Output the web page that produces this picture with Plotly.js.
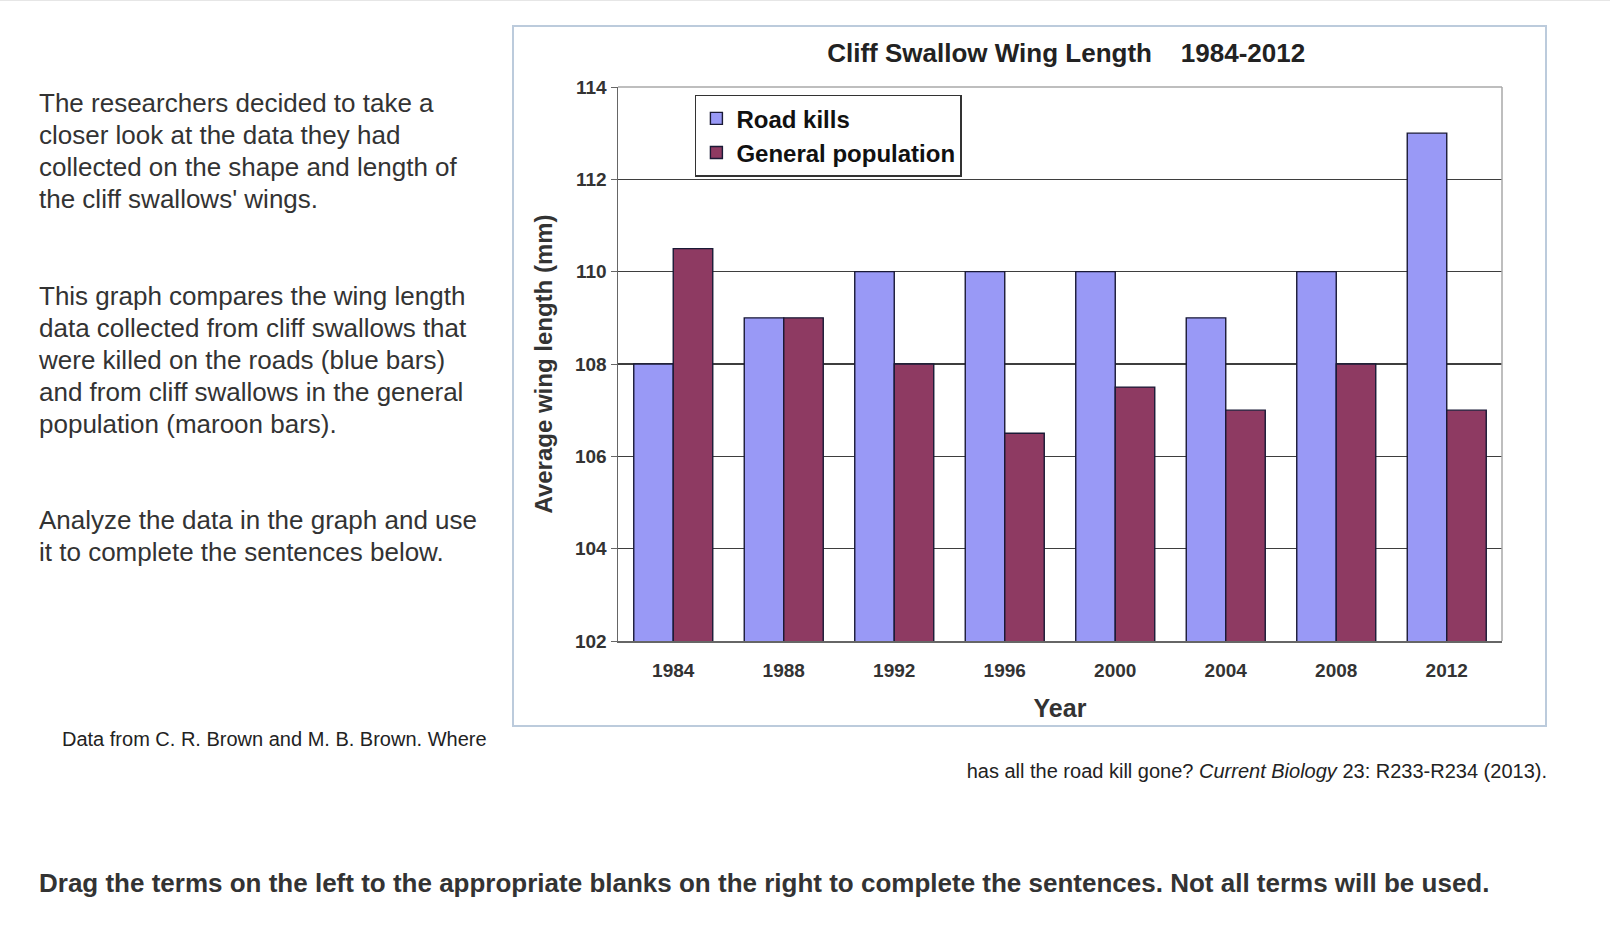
<!DOCTYPE html>
<html>
<head>
<meta charset="utf-8">
<script src="https://cdn.plot.ly/plotly-3.0.1.min.js"></script>
<style>
  html, body { margin: 0; padding: 0; background: #ffffff; }
  body { width: 1610px; height: 930px; position: relative; overflow: hidden;
         font-family: "Liberation Sans", Arial, Helvetica, sans-serif; color: #333; }
  .topline { position: absolute; left: 0; top: 0; width: 1610px; height: 1px; background: #e6e6e6; }
  .para { position: absolute; left: 39px; font-size: 26px; line-height: 32px; white-space: nowrap; }
  .cite { position: absolute; font-size: 20px; line-height: 24px; white-space: nowrap; color: #222; }
  .task { position: absolute; left: 39px; top: 867px; font-size: 26px; line-height: 32px;
          font-weight: bold; white-space: nowrap; color: #333; }
  #chartBox { position: absolute; left: 512px; top: 25px; width: 1031px; height: 698px;
              border: 2px solid #bccbdc; }
  #chart { width: 1031px; height: 698px; }
</style>
</head>
<body>
<div class="topline"></div>

<div class="para" style="top:87px">The researchers decided to take a<br>closer look at the data they had<br>collected on the shape and length of<br>the cliff swallows' wings.</div>
<div class="para" style="top:280px">This graph compares the wing length<br>data collected from cliff swallows that<br>were killed on the roads (blue bars)<br>and from cliff swallows in the general<br>population (maroon bars).</div>
<div class="para" style="top:504px">Analyze the data in the graph and use<br>it to complete the sentences below.</div>

<div class="cite" style="left:62px; top:727px">Data from C. R. Brown and M. B. Brown. Where</div>
<div class="cite" style="right:63px; top:759px">has all the road kill gone? <i>Current Biology</i> 23: R233-R234 (2013).</div>

<div class="task">Drag the terms on the left to the appropriate blanks on the right to complete the sentences. Not all terms will be used.</div>

<div id="chartBox"><div id="chart"></div></div>

<script>
// Chart values
const years = ["1984", "1988", "1992", "1996", "2000", "2004", "2008", "2012"];
const roadKills = [108, 109, 110, 110, 110, 109, 110, 113];
const generalPopulation = [110.5, 109, 108, 106.5, 107.5, 107, 108, 107];
const yTicks = [102, 104, 106, 108, 110, 112, 114];

const chartFont = '"Liberation Sans", Arial, sans-serif';

// Build one bar trace
function barTrace(name, values, color, group) {
  return {
    type: "bar",
    name: name,
    x: years,
    y: values,
    legendgroup: group,
    marker: { color: color, line: { color: "#1a1a36", width: 1.4 } },
    hoverinfo: "skip"
  };
}

const traces = [
  barTrace("Road kills", roadKills, "#9999f6", "a"),
  barTrace("General population", generalPopulation, "#8e3a62", "b")
];

const layout = {
  width: 1031,
  height: 698,
  margin: { l: 104, r: 43, t: 60, b: 84 },
  paper_bgcolor: "#ffffff",
  plot_bgcolor: "#ffffff",
  barmode: "group",
  bargap: 0.285,
  bargroupgap: 0,
  title: {
    text: "Cliff Swallow Wing Length\u00a0\u00a0\u00a0\u00a01984-2012",
    font: { family: chartFont, size: 26, color: "#222", weight: "bold" },
    xref: "paper",
    x: 0.507,
    xanchor: "center",
    y: 0.963,
    yanchor: "middle"
  },
  xaxis: {
    type: "category",
    showgrid: false,
    showline: true,
    linecolor: "#666",
    linewidth: 1.5,
    ticks: "",
    ticklabelstandoff: 12,
    tickfont: { family: chartFont, size: 19, color: "#333", weight: "bold" },
    title: {
      text: "Year",
      font: { family: chartFont, size: 25, color: "#333", weight: "bold" },
      standoff: 19
    }
  },
  yaxis: {
    range: [102, 114],
    tickvals: yTicks,
    ticktext: yTicks.map(String),
    showgrid: true,
    gridcolor: "#3e3e3e",
    gridwidth: 1.4,
    zeroline: false,
    showline: true,
    linecolor: "#666",
    linewidth: 1.5,
    ticks: "outside",
    ticklen: 6,
    tickcolor: "#666",
    tickfont: { family: chartFont, size: 19, color: "#333", weight: "bold" },
    title: {
      text: "Average wing length (mm)",
      font: { family: chartFont, size: 24, color: "#333", weight: "bold" },
      standoff: 15
    }
  },
  shapes: [
    { type: "line", xref: "paper", yref: "paper", x0: 0, x1: 1, y0: 1, y1: 1,
      line: { color: "#a8a8a8", width: 1.5 }, layer: "above" },
    { type: "line", xref: "paper", yref: "paper", x0: 1, x1: 1, y0: 0, y1: 1,
      line: { color: "#a8a8a8", width: 1.5 }, layer: "above" }
  ],
  showlegend: true,
  legend: {
    x: 0.087,
    xanchor: "left",
    y: 0.986,
    yanchor: "top",
    bgcolor: "#ffffff",
    bordercolor: "#333",
    borderwidth: 1.5,
    tracegroupgap: 0,
    font: { family: chartFont, size: 24, color: "#111", weight: "bold" }
  }
};

Plotly.newPlot("chart", traces, layout, { staticPlot: true, displayModeBar: false });
</script>
</body>
</html>
